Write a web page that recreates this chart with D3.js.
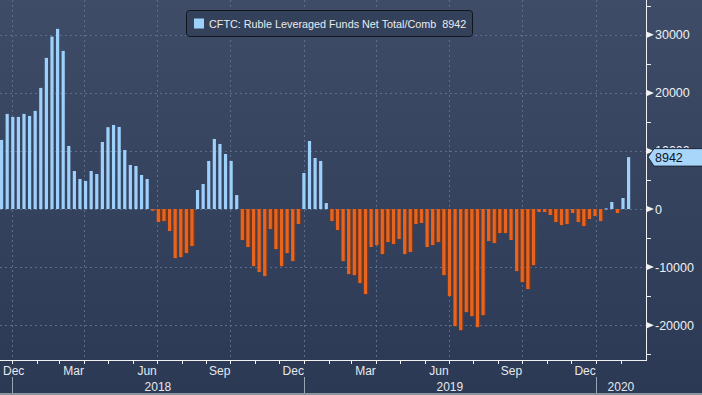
<!DOCTYPE html>
<html>
<head>
<meta charset="utf-8">
<script src="https://cdn.jsdelivr.net/npm/d3@7"></script>
<style>
  body { margin: 0; background: #2c3a54; }
  svg { display: block; }
  text { font-family: "Liberation Sans", Arial, sans-serif; }
</style>
</head>
<body>
<div id="chart"></div>
<script>
// weekly CFTC readings, first report and values
const firstWeek = new Date(2017, 11, 19);
const values = [
  11900, 16380, 15860, 15860, 16380, 16030, 16900, 20860, 26030, 29700,
  31030, 27240, 10860, 6550, 5170, 4830, 6550, 6030, 11550, 14100,
  14480, 14140, 10170, 7590, 7410, 5860, 5170, -300, -2240, -2070,
  -3790, -8450, -8280, -7590, -6380, 3280, 4310, 8280, 12070, 11210,
  9480, 8280, 2410, -5340, -6550, -9830, -10860, -11550, -3450, -6900,
  -9830, -7590, -8970, -2590, 6210, 11720, 8790, 8280, 1030, -2070,
  -3620, -8970, -11210, -11380, -12760, -14650, -6550, -6210, -7760, -5690,
  -6030, -5170, -7760, -7410, -2590, -2410, -6550, -6210, -5690, -11380,
  -15000, -20170, -20860, -17760, -18450, -20340, -18280, -5520, -5860, -4140,
  -4140, -5340, -10690, -12590, -13790, -9660, -520, -520, -1030, -2240,
  -2760, -2590, -690, -2240, -2930, -1720, -1210, -2070, 100, 1210,
  -690, 1900, 8942
];
const yTicks = [30000, 20000, 10000, 0, -10000, -20000];
const yMinor = [35000, 25000, 15000, 5000, -5000, -15000, -25000];
const years = ["2018", "2019", "2020"];
const legendLabel = "CFTC: Ruble Leveraged Funds Net Total/Comb\u00a0\u00a08942";
const lastValue = 8942;

const data = values.map((v, i) => ({ date: d3.timeWeek.offset(firstWeek, i), value: v }));

var width = 702,
  height = 395,
  plotRight = 646,
  plotBottom = 360;

var x = d3
  .scaleTime()
  .domain([data[0].date, data[data.length - 1].date])
  .range([1.6, 628.6]);

var y = d3.scaleLinear().domain([-26000, 36000]).range([plotBottom, 0]);

var svg = d3
  .select("#chart")
  .append("svg")
  .attr("width", width)
  .attr("height", height);

var grad = svg
  .append("defs")
  .append("linearGradient")
  .attr("id", "bg")
  .attr("x1", 0)
  .attr("y1", 0)
  .attr("x2", 0)
  .attr("y2", 1);
grad.append("stop").attr("offset", 0).attr("stop-color", "#3e4c67");
grad.append("stop").attr("offset", 1).attr("stop-color", "#2b3954");

svg.append("rect").attr("width", width).attr("height", height).attr("fill", "url(#bg)");

// grid
var quarters = d3.timeMonth.every(3).range(new Date(2018, 0, 1), new Date(2020, 1, 1));
var months = d3.timeMonth.range(new Date(2018, 0, 1), new Date(2020, 2, 1));

svg
  .append("g")
  .selectAll("line")
  .data(quarters)
  .enter()
  .append("line")
  .attr("x1", (d) => Math.round(x(d)) + 0.5)
  .attr("x2", (d) => Math.round(x(d)) + 0.5)
  .attr("y1", 0)
  .attr("y2", plotBottom)
  .attr("stroke", "#5d6e8a")
  .attr("stroke-dasharray", "2,3");

svg
  .append("g")
  .selectAll("line")
  .data(yTicks)
  .enter()
  .append("line")
  .attr("x1", 0)
  .attr("x2", plotRight)
  .attr("y1", (d) => Math.round(y(d)) + 0.5)
  .attr("y2", (d) => Math.round(y(d)) + 0.5)
  .attr("stroke", "#5d6e8a")
  .attr("stroke-dasharray", "2,3");

// bars
var barW = 3.2;
var bars = svg.append("g");
bars
  .selectAll(".shade")
  .data(data.filter((d) => d.value < 0))
  .enter()
  .append("rect")
  .attr("x", (d) => x(d.date) - barW / 2)
  .attr("y", y(0))
  .attr("width", barW + 1.2)
  .attr("height", (d) => y(d.value) - y(0))
  .attr("fill", "#7d3a1c");
bars
  .selectAll(".bar")
  .data(data)
  .enter()
  .append("rect")
  .attr("x", (d) => x(d.date) - barW / 2)
  .attr("y", (d) => (d.value >= 0 ? y(d.value) : y(0)))
  .attr("width", barW)
  .attr("height", (d) => Math.max(1, Math.abs(y(d.value) - y(0))))
  .attr("fill", (d) => (d.value >= 0 ? "#9dd0fb" : "#e8641e"));

// axes lines
svg
  .append("line")
  .attr("x1", 0)
  .attr("x2", plotRight + 1)
  .attr("y1", plotBottom + 0.5)
  .attr("y2", plotBottom + 0.5)
  .attr("stroke", "#f0f0f0");
svg
  .append("line")
  .attr("x1", plotRight + 0.5)
  .attr("x2", plotRight + 0.5)
  .attr("y1", 0)
  .attr("y2", plotBottom + 1)
  .attr("stroke", "#f0f0f0");

// x ticks and labels (month name sits at the end of its month)
svg
  .append("g")
  .selectAll("line")
  .data(months)
  .enter()
  .append("line")
  .attr("x1", (d) => Math.round(x(d)) + 0.5)
  .attr("x2", (d) => Math.round(x(d)) + 0.5)
  .attr("y1", plotBottom)
  .attr("y2", plotBottom + 4)
  .attr("stroke", "#f0f0f0");

svg
  .append("g")
  .selectAll("text")
  .data(quarters)
  .enter()
  .append("text")
  .attr("y", 375)
  .attr("font-size", 12)
  .attr("fill", "#e6e8ec")
  .text((d) => d3.timeFormat("%b")(d3.timeDay.offset(d, -1)))
  .each(function (d) {
    var w = this.getComputedTextLength();
    this.setAttribute("x", Math.max(3, x(d) - w));
  });

var yearStarts = years.map((yr) => x(new Date(+yr, 0, 1)));
var yearEnds = yearStarts.slice(1).concat([plotRight]);

svg
  .append("g")
  .selectAll("line")
  .data(yearStarts)
  .enter()
  .append("line")
  .attr("x1", (d) => Math.round(d) + 0.5)
  .attr("x2", (d) => Math.round(d) + 0.5)
  .attr("y1", 377)
  .attr("y2", 393)
  .attr("stroke", "#9aa3b3");

svg
  .append("g")
  .selectAll("text")
  .data(years)
  .enter()
  .append("text")
  .attr("x", (d, i) => (yearStarts[i] + yearEnds[i]) / 2)
  .attr("y", 391)
  .attr("text-anchor", "middle")
  .attr("font-size", 12)
  .attr("fill", "#e6e8ec")
  .text((d) => d);

svg.append("rect").attr("x", 0).attr("y", 393).attr("width", width).attr("height", 2).attr("fill", "#8e949e");

// y ticks (right)
svg
  .append("g")
  .selectAll("line")
  .data(yMinor)
  .enter()
  .append("line")
  .attr("x1", plotRight)
  .attr("x2", plotRight + 5)
  .attr("y1", (d) => Math.round(y(d)) + 0.5)
  .attr("y2", (d) => Math.round(y(d)) + 0.5)
  .attr("stroke", "#f0f0f0");

var yt = svg.append("g").selectAll("g").data(yTicks).enter().append("g")
  .attr("transform", (d) => "translate(" + plotRight + "," + y(d) + ")");
yt.append("path").attr("d", "M1,-3L8,0L1,3Z").attr("fill", "#f0f0f0");
yt.append("text")
  .attr("x", 9)
  .attr("y", 4.5)
  .attr("font-size", 12.5)
  .attr("fill", "#eef0f3")
  .text((d) => (d < 0 ? "-" : "") + Math.abs(d));

// last value tag
var ly = y(lastValue);
svg
  .append("path")
  .attr("d", "M" + (plotRight + 2) + "," + ly + "L" + (plotRight + 8) + "," + (ly - 8.5) + "L" + (width + 1) + "," + (ly - 8.5) + "L" + (width + 1) + "," + (ly + 9) + "L" + (plotRight + 8) + "," + (ly + 9) + "Z")
  .attr("fill", "#a8d6fb")
  .attr("stroke", "#1c2536")
  .attr("stroke-width", 1);
svg
  .append("text")
  .attr("x", plotRight + 9)
  .attr("y", ly + 4.5)
  .attr("font-size", 12.5)
  .attr("fill", "#0b1424")
  .text(lastValue);

// legend
var lg = svg.append("g").attr("transform", "translate(186,10)");
lg.append("rect")
  .attr("x", 0.5)
  .attr("y", 0.5)
  .attr("width", 286)
  .attr("height", 26)
  .attr("rx", 3)
  .attr("fill", "#34415a")
  .attr("stroke", "#11151d");
lg.append("rect").attr("x", 8).attr("y", 8.5).attr("width", 10).attr("height", 10).attr("fill", "#9dd0fb");
lg.append("text")
  .attr("x", 23)
  .attr("y", 18)
  .attr("font-size", 10.8)
  .attr("fill", "#e9ebef")
  .text(legendLabel);
</script>
</body>
</html>
